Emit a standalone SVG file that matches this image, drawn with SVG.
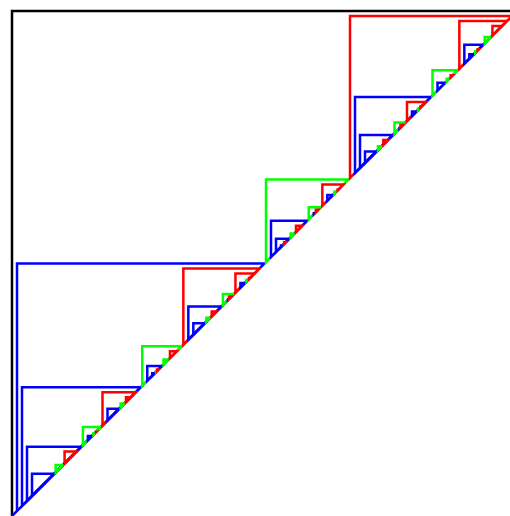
<svg xmlns="http://www.w3.org/2000/svg" width="510" height="516" viewBox="0 0 510 516">
<style>
path{fill:none;stroke-width:2.5;stroke-linejoin:miter}
.k{stroke:#000}.b{stroke:#00f}.g{stroke:#0f0}.r{stroke:#f00}
</style>
<rect width="510" height="516" fill="#fff"/>
<g id="K"><path class="k" d="M12,516 V11 H517"/>
<g id="B1"><path class="b" d="M12,516 L17,511 V263.5 H264.5 Z"/>
 <g id="BB"><path class="b" d="M22,506 V387.25 H140.75 Z"/>
  <g id="BBB"><path class="b" d="M27,501 V446.63 H81.38 Z"/>
   <path id="BBBB" class="b" d="M32,496 V473.81 H54.19 Z"/>
   <path id="BBBG" class="g" d="M55.69,472.31 V464.92 H63.08 Z"/>
   <path id="BBBR" class="r" d="M64.58,463.42 V451.62 H76.38 Z"/>
  </g>
  <g id="BBG"><path class="g" d="M82.88,445.13 V427 H101 Z"/>
   <path id="BBGB" class="b" d="M87.88,440.12 V436.06 H91.94 Z"/>
   <path id="BBGG" class="g" d="M93.44,434.56 V433.21 H94.79 Z"/>
   <path id="BBGR" class="r" d="M96,432 V431.71 H96.29 Z"/>
  </g>
  <g id="BBR"><path class="r" d="M102.5,425.5 V392.25 H135.75 Z"/>
   <path id="BBRB" class="b" d="M107.5,420.5 V408.87 H119.13 Z"/>
   <path id="BBRG" class="g" d="M120.63,407.37 V403.5 H124.5 Z"/>
   <path id="BBRR" class="r" d="M126,402 V397.25 H130.75 Z"/>
  </g>
 </g>
 <g id="BG"><path class="g" d="M142.25,385.75 V346.17 H181.83 Z"/>
  <g id="BGB"><path class="b" d="M147.25,380.75 V365.96 H162.04 Z"/>
   <path id="BGBB" class="b" d="M152.25,375.75 V373.35 H154.65 Z"/>
   <path id="BGBG" class="g" d="M156.15,371.85 V371.06 H156.94 Z"/>
   <path id="BGBR" class="r" d="M157.04,370.96 V369.56 H158.44 Z"/>
  </g>
  <path id="BGG" class="g" d="M163.54,364.46 V359.53 H168.47 Z"/>
  <path id="BGR" class="r" d="M169.97,358.03 V351.17 H176.83 Z"/>
 </g>
 <g id="BR"><path class="r" d="M183.33,344.67 V268.5 H259.5 Z"/>
  <g id="BRB"><path class="b" d="M188.33,339.67 V306.59 H221.41 Z"/>
   <path id="BRBB" class="b" d="M193.33,334.67 V323.13 H204.87 Z"/>
   <path id="BRBG" class="g" d="M206.37,321.63 V317.78 H210.22 Z"/>
   <path id="BRBR" class="r" d="M211.72,316.28 V311.59 H216.41 Z"/>
  </g>
  <g id="BRG"><path class="g" d="M222.91,305.09 V294.06 H233.94 Z"/>
   <path id="BRGB" class="b" d="M227.91,300.09 V299.57 H228.43 Z"/>
   <path id="BRGG" class="g" d="M229.93,298.07 V297.9 H230.1 Z"/>
   <path id="BRGR" class="r" d="M228.94,299.06 V296.4 H231.6 Z"/>
  </g>
  <g id="BRR"><path class="r" d="M235.44,292.56 V273.5 H254.5 Z"/>
   <path id="BRRB" class="b" d="M240.44,287.56 V283.03 H244.97 Z"/>
   <path id="BRRG" class="g" d="M246.47,281.53 V280.02 H247.98 Z"/>
   <path id="BRRR" class="r" d="M249,279 V278 H250 Z"/>
  </g>
 </g>
</g>
<g id="G1"><path class="g" d="M266,262 V179.5 H348.5 Z"/>
 <g id="GB"><path class="b" d="M271,257 V220.75 H307.25 Z"/>
  <g id="GBB"><path class="b" d="M276,252 V238.87 H289.13 Z"/>
   <path id="GBBB" class="b" d="M281,247 V245.44 H282.56 Z"/>
   <path id="GBBG" class="g" d="M284.06,243.94 V243.42 H284.58 Z"/>
   <path id="GBBR" class="r" d="M284.13,243.87 V241.92 H286.08 Z"/>
  </g>
  <path id="GBG" class="g" d="M290.63,237.37 V233.5 H294.5 Z"/>
  <path id="GBR" class="r" d="M296,232 V225.75 H302.25 Z"/>
 </g>
 <g id="GG"><path class="g" d="M308.75,219.25 V207.17 H320.83 Z"/>
  <path id="GGB" class="b" d="M313.75,214.25 V213.21 H314.79 Z"/>
  <path id="GGG" class="g" d="M316.29,211.71 V211.36 H316.64 Z"/>
  <path id="GGR" class="r" d="M315.83,212.17 V209.86 H318.14 Z"/>
 </g>
 <g id="GR"><path class="r" d="M322.33,205.67 V184.5 H343.5 Z"/>
  <path id="GRB" class="b" d="M327.33,200.67 V195.09 H332.91 Z"/>
  <path id="GRG" class="g" d="M334.41,193.59 V191.73 H336.27 Z"/>
  <path id="GRR" class="r" d="M337.77,190.23 V189.5 H338.5 Z"/>
 </g>
</g>
<g id="R1"><path class="r" d="M350,178 V16 H512 Z"/>
 <g id="RB"><path class="b" d="M355,173 V97 H431 Z"/>
  <g id="RBB"><path class="b" d="M360,168 V135 H393 Z"/>
   <path id="RBBB" class="b" d="M365,163 V151.5 H376.5 Z"/>
   <path id="RBBG" class="g" d="M378,150 V146.17 H381.83 Z"/>
   <path id="RBBR" class="r" d="M383.33,144.67 V140 H388 Z"/>
  </g>
  <g id="RBG"><path class="g" d="M394.5,133.5 V122.5 H405.5 Z"/>
   <path id="RBGB" class="b" d="M399.5,128.5 V128 H400 Z"/>
   <path id="RBGG" class="g" d="M401.5,126.5 V126.33 H401.67 Z"/>
   <path id="RBGR" class="r" d="M400.5,127.5 V124.83 H403.17 Z"/>
  </g>
  <g id="RBR"><path class="r" d="M407,121 V102 H426 Z"/>
   <path id="RBRB" class="b" d="M412,116 V111.5 H416.5 Z"/>
   <path id="RBRG" class="g" d="M418,110 V108.5 H419.5 Z"/>
   <path id="RBRR" class="r" d="M420.5,107.5 V106.5 H421.5 Z"/>
  </g>
 </g>
 <g id="RG"><path class="g" d="M432.5,95.5 V70.17 H457.83 Z"/>
  <path id="RGB" class="b" d="M437.5,90.5 V82.83 H445.17 Z"/>
  <path id="RGG" class="g" d="M446.67,81.33 V78.78 H449.22 Z"/>
  <path id="RGR" class="r" d="M450.72,77.28 V75.17 H452.83 Z"/>
 </g>
 <g id="RR"><path class="r" d="M459.33,68.67 V21 H507 Z"/>
  <g id="RRB"><path class="b" d="M464.33,63.67 V44.83 H483.17 Z"/>
   <path id="RRBB" class="b" d="M469.33,58.67 V54.25 H473.75 Z"/>
   <path id="RRBG" class="g" d="M475.25,52.75 V51.28 H476.72 Z"/>
   <path id="RRBR" class="r" d="M477.7,50.3 V49.3 H478.7 Z"/>
  </g>
  <path id="RRG" class="g" d="M484.67,43.33 V37.06 H490.94 Z"/>
  <path id="RRR" class="r" d="M492.44,35.56 V26 H502 Z"/>
 </g>
</g>
</g>
</svg>
